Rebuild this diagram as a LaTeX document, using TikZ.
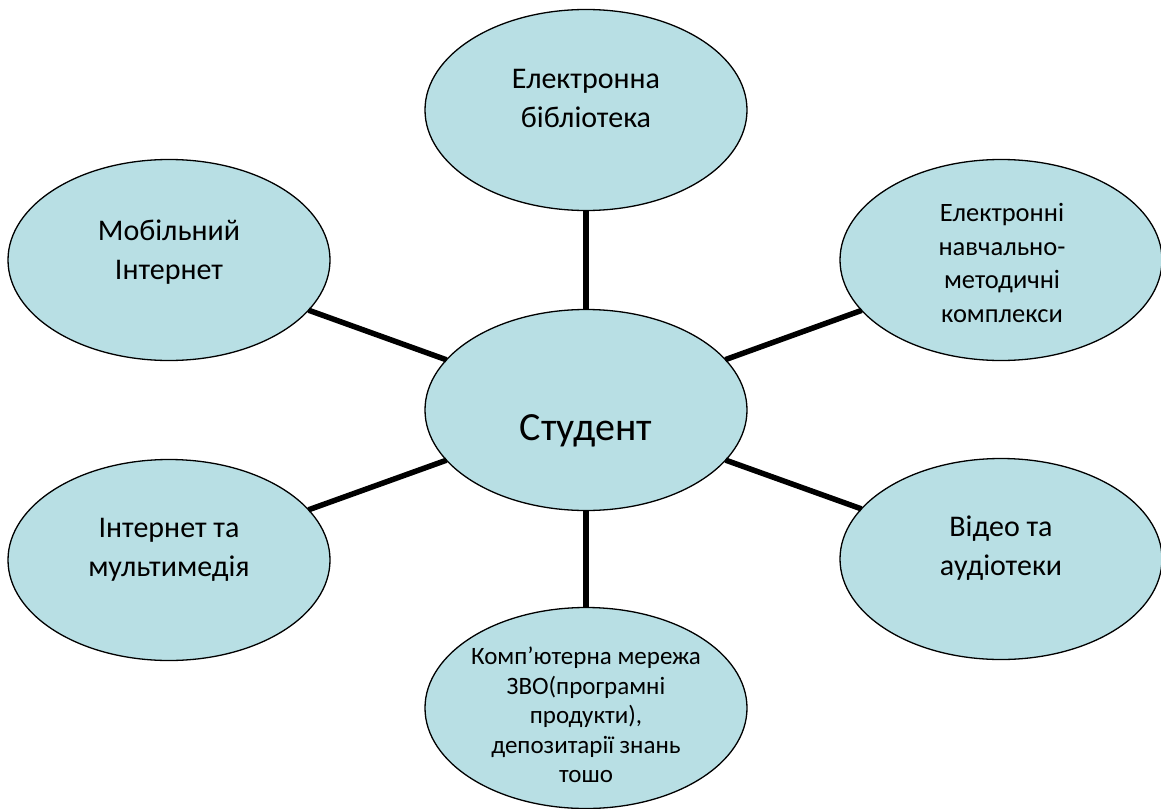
\documentclass[tikz,border=0pt]{standalone}
\usepackage{fontspec}
\setmainfont{Carlito}
\usetikzlibrary{shapes.geometric}
\definecolor{bubblefill}{RGB}{184,223,228}
\begin{document}
\begin{tikzpicture}[x=1pt,y=-1pt,
  bubble/.style={ellipse, draw=black, line width=1.3pt, fill=bubblefill,
    minimum width=322pt, minimum height=201pt, inner sep=0pt, outer sep=0pt},
  txt/.style={align=center, inner sep=0pt, font=\fontsize{30}{39}\selectfont},
  smalltxt/.style={align=center, inner sep=0pt, font=\fontsize{26.5}{33.5}\selectfont},
  tinytxt/.style={align=center, inner sep=0pt, font=\fontsize{25}{29.5}\selectfont},
  bigtxt/.style={inner sep=0pt, font=\fontsize{40}{48}\selectfont},
  link/.style={line width=5.5pt}]
\useasboundingbox (0,0) rectangle (1161,808);
\node[bubble] (stud) at (586,410) {};
\node[bubble] (lib)  at (586,110) {};
\node[bubble] (mob)  at (169,260) {};
\node[bubble] (enmk) at (1001,260) {};
\node[bubble] (inet) at (169,560) {};
\node[bubble] (vid)  at (1001,559) {};
\node[bubble] (comp) at (586,708) {};
\draw[link] (stud) -- (lib);
\draw[link] (stud) -- (mob);
\draw[link] (stud) -- (enmk);
\draw[link] (stud) -- (inet);
\draw[link] (stud) -- (vid);
\draw[link] (stud) -- (comp);
\node[bigtxt] (studT) at (586,431) {Студент};
\node[txt] (libT) at (586,98) {Електронна\\бібліотека};
\node[txt] (mobT) at (169,252) {Мобільний\\Інтернет};
\node[txt] (inetT) at (169,550) {Інтернет та\\мультимедія};
\node[txt] (vidT) at (1001,548) {Відео та\\аудіотеки};
\node[smalltxt] (enmkT) at (1002,263) {Електронні\\навчально-\\методичні\\комплекси};
\node[tinytxt] (compT) at (586,715) {Комп’ютерна мережа\\ЗВО(програмні\\продукти),\\депозитарії знань\\тошо};
\end{tikzpicture}
\end{document}
